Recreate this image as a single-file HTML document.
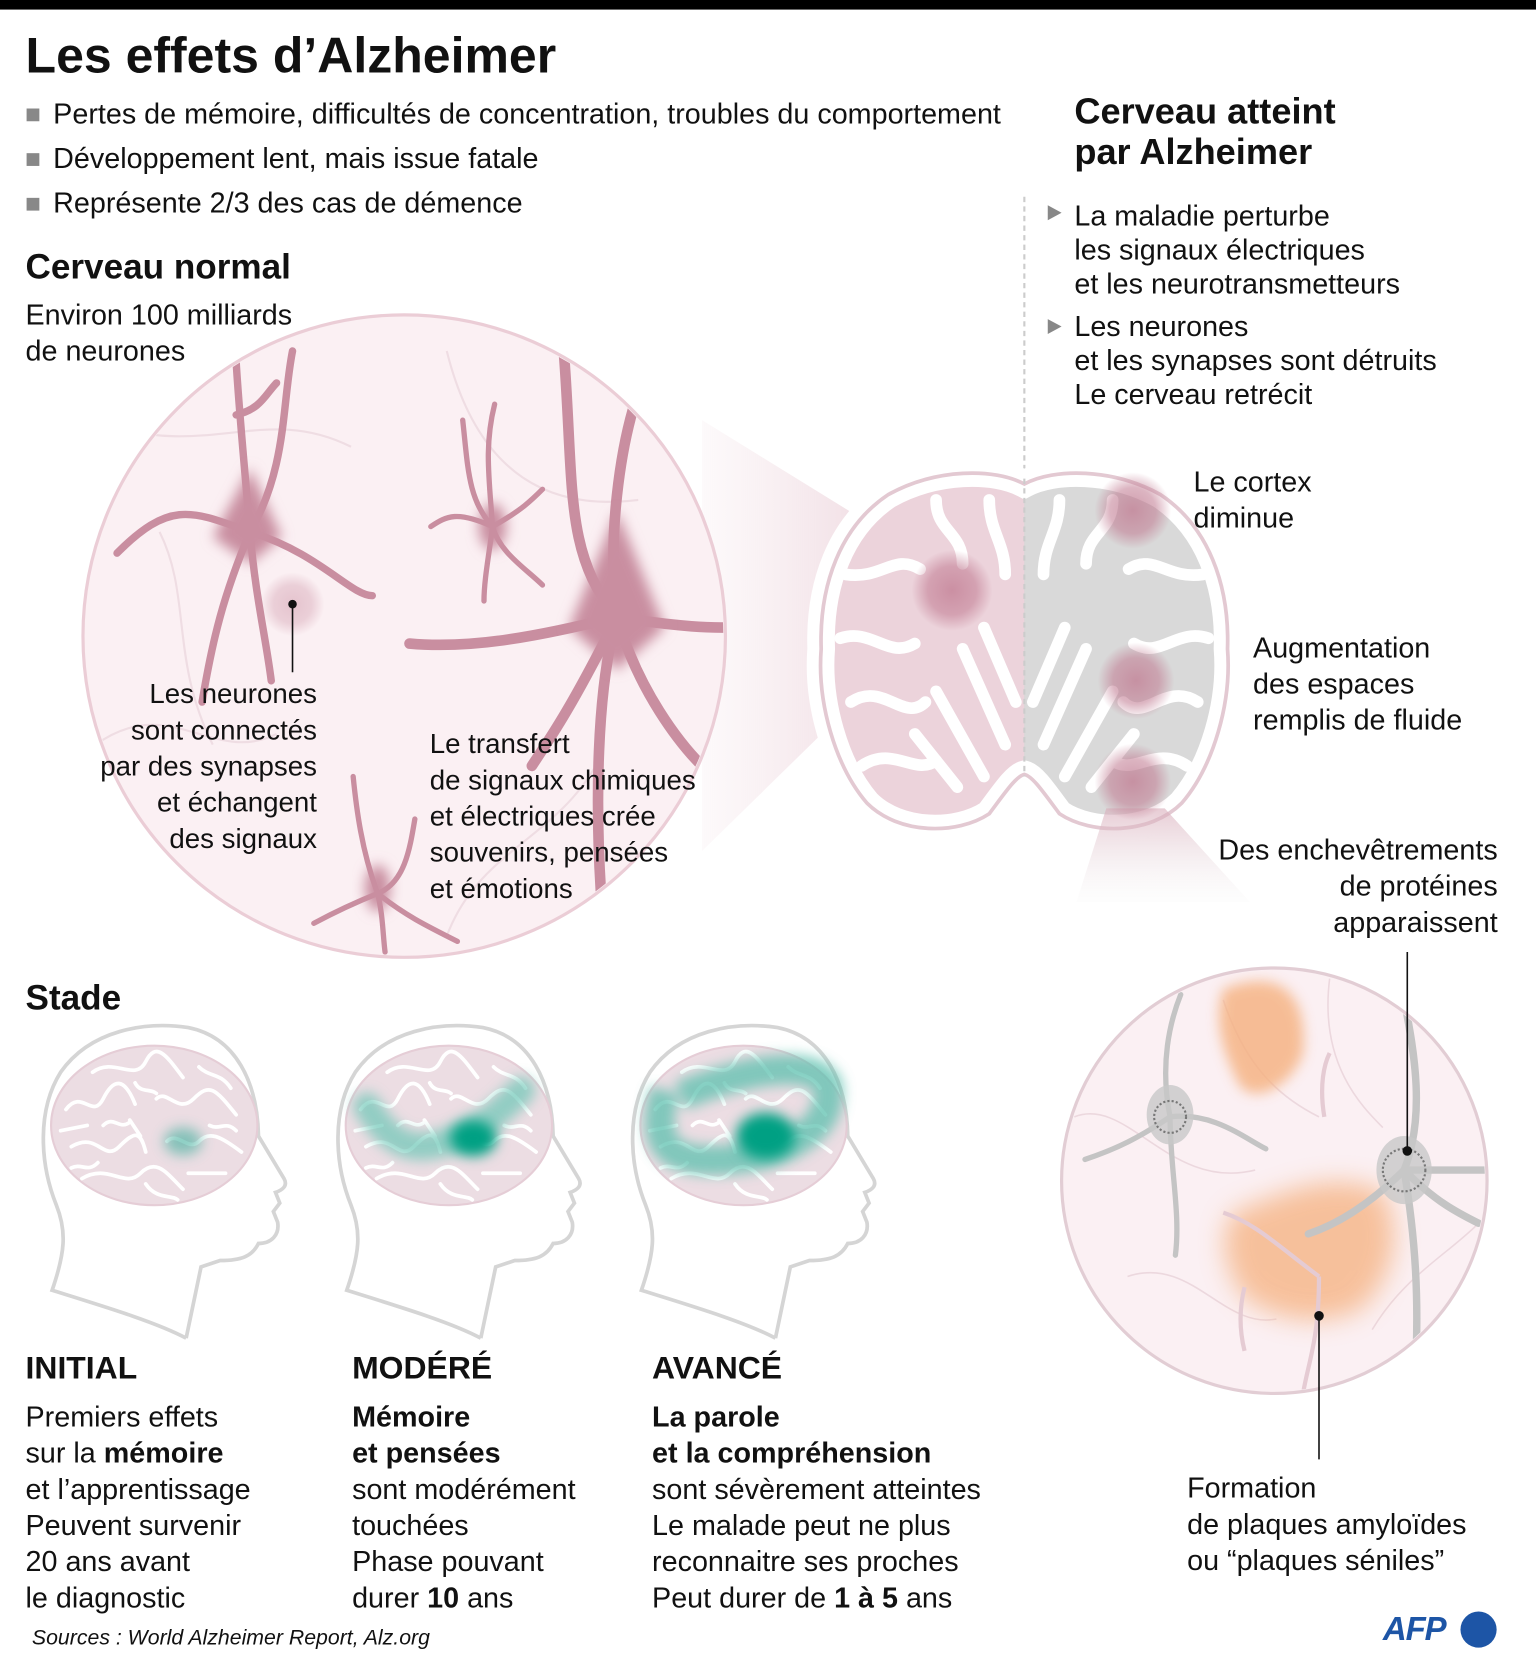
<!DOCTYPE html>
<html><head><meta charset="utf-8"><style>
html,body{margin:0;padding:0;background:#fff;width:1536px;height:1668px;overflow:hidden}
#w{position:absolute;left:0;top:0;width:1444px;height:1568px;transform:scale(1.06371);transform-origin:0 0;font-family:"Liberation Sans",sans-serif;color:#111}
.t{position:absolute;white-space:nowrap;line-height:1}
.b{font-weight:bold}
.r{text-align:right}
</style></head><body><div id="w">
<svg width="1444" height="1568" style="position:absolute;left:0;top:0">
<defs>
<filter id="bl" x="-50%" y="-50%" width="200%" height="200%"><feGaussianBlur stdDeviation="6"/></filter>
<filter id="bl2" x="-50%" y="-50%" width="200%" height="200%"><feGaussianBlur stdDeviation="12"/></filter>
<radialGradient id="pk"><stop offset="0" stop-color="#c07990" stop-opacity=".75"/><stop offset=".6" stop-color="#c07990" stop-opacity=".55"/><stop offset="1" stop-color="#c07990" stop-opacity="0"/></radialGradient>
<linearGradient id="cone" x1="0" x2="1"><stop offset="0" stop-color="#e9c9d3" stop-opacity="0.1"/><stop offset="1" stop-color="#d9a7b7" stop-opacity=".6"/></linearGradient>
<linearGradient id="cone2" y1="0" y2="1" x1="0" x2="0"><stop offset="0" stop-color="#d8aab8" stop-opacity=".6"/><stop offset="1" stop-color="#eee" stop-opacity="0.1"/></linearGradient>
<clipPath id="c1"><circle cx="380" cy="598" r="300"/></clipPath>
<clipPath id="c2"><circle cx="1198" cy="1110" r="198"/></clipPath>
<clipPath id="lh"><rect x="700" y="400" width="263" height="420"/></clipPath>
<clipPath id="rh"><rect x="963" y="400" width="250" height="420"/></clipPath>
<path id="bo" d="M963,455 C935,440 880,440 835,465 C790,495 770,550 772,610 C768,660 785,720 815,755 C845,785 900,785 930,765 C945,745 955,730 963,728 C971,730 981,745 996,765 C1026,785 1081,785 1111,755 C1141,720 1158,660 1154,610 C1156,550 1136,495 1091,465 C1046,440 991,440 963,455Z"/>
<g id="head">
<path d="M138,295 C110,280 60,265 12,250 C24,215 26,195 16,170 C0,130 -2,80 20,45 C48,5 100,-3 140,3 C185,12 205,55 206,105 L230,145 C234,152 228,156 222,158 L226,168 L220,176 L224,186 C226,198 218,206 206,206 C200,218 190,222 170,222 L152,228 L138,295" fill="#fff" stroke="#d5d5d5" stroke-width="3.5"/>
<ellipse cx="108" cy="95" rx="97" ry="75" fill="#ecdde3" stroke="#e5cdd6" stroke-width="2"/>
<g fill="none" stroke="#fff" stroke-width="3.5" stroke-linecap="round">
<path d="M25,80 C40,60 50,90 60,70 S80,50 90,75"/><path d="M30,115 C55,100 60,130 75,115 S95,100 100,120"/>
<path d="M50,45 C70,30 90,55 100,35 S120,30 135,50"/><path d="M110,70 C120,60 130,85 145,70 S165,60 185,85"/>
<path d="M120,110 C130,100 140,120 150,110 S170,105 190,120"/><path d="M40,145 C65,130 80,155 95,140 S120,140 135,155"/>
<path d="M20,100 L45,95"/><path d="M150,40 C160,50 170,45 180,60"/><path d="M85,90 L95,105"/><path d="M140,140 L175,140"/>
<path d="M60,95 C70,85 75,100 85,92"/><path d="M100,150 C110,165 125,160 130,165"/><path d="M160,95 C170,100 175,90 185,100"/><path d="M30,135 C40,130 45,140 55,130"/><path d="M90,55 C95,65 105,60 110,65"/>
</g>
</g>
</defs>
<rect x="0" y="0" width="1444" height="9" fill="#000"/>
<rect x="25" y="102" width="12" height="12" fill="#888"/><rect x="25" y="144" width="12" height="12" fill="#888"/><rect x="25" y="186" width="12" height="12" fill="#888"/>
<path d="M985,193 L998,200 L985,207Z M985,300 L998,307 L985,314Z" fill="#888"/>
<line x1="963" y1="185" x2="963" y2="740" stroke="#ccc" stroke-width="2" stroke-dasharray="5,4"/>
<polygon points="660,395 895,540 895,570 660,800" fill="url(#cone)"/>
<circle cx="380" cy="598" r="302" fill="#fbf0f3" stroke="#ebcdd6" stroke-width="3"/>
<g clip-path="url(#c1)" fill="none" stroke="#efdde3" stroke-width="2">
<path d="M100,400 C200,430 250,380 330,420 M420,330 C450,450 520,480 600,470 M90,700 C160,650 200,720 260,690 M420,880 C450,800 520,790 560,720 M150,500 C180,560 160,620 200,700"/>
</g>
<g clip-path="url(#c1)" stroke="#c98ea0" fill="none" stroke-linecap="round">
<path d="M235,500 C230,440 225,390 222,340 M235,500 C270,440 265,380 275,330 M235,500 C180,480 160,470 110,520 M235,500 C300,520 330,560 350,560 M235,500 C240,560 250,600 255,640 M235,500 C210,560 200,600 190,660 M222,390 C245,385 250,370 260,360" stroke-width="7"/>
<path d="M580,580 C570,500 585,420 595,385 M580,580 C530,520 540,460 530,330 M580,580 C500,600 440,610 385,605 M580,580 C640,590 670,590 690,590 M580,580 C600,650 640,700 660,720 M580,580 C560,650 560,760 565,840 M580,580 C540,660 520,690 500,720" stroke-width="10"/>
<path d="M463,495 C460,450 455,420 465,380 M463,495 C430,480 420,485 405,495 M463,495 C490,480 500,470 510,460 M463,495 C470,520 495,535 510,550 M463,495 C460,520 455,545 455,565 M463,495 C440,470 440,440 435,395" stroke-width="5"/>
<path d="M355,840 C340,800 335,760 332,730 M355,840 C330,850 310,860 295,868 M355,840 C380,830 385,800 390,770 M355,840 C360,860 360,880 362,895 M355,840 C380,860 400,870 430,885" stroke-width="5"/>
</g>
<path d="M235,440 L265,505 L235,530 L200,505Z" fill="#c98ea0" filter="url(#bl)"/>
<path d="M580,480 L625,590 L580,630 L535,590Z" fill="#c98ea0" filter="url(#bl)"/>
<ellipse cx="463" cy="495" rx="13" ry="22" fill="#c98ea0" filter="url(#bl)"/>
<ellipse cx="355" cy="835" rx="12" ry="22" fill="#c98ea0" filter="url(#bl)"/>
<circle cx="275" cy="568" r="30" fill="url(#pk)" opacity=".5"/>
<circle cx="275" cy="568" r="4" fill="#111"/>
<line x1="275" y1="568" x2="275" y2="632" stroke="#111" stroke-width="1.5"/>
<g clip-path="url(#lh)"><use href="#bo" fill="#ecd3db"/></g>
<g clip-path="url(#rh)"><use href="#bo" fill="#d9d9d9"/></g>
<use href="#bo" fill="none" stroke="#fff" stroke-width="26"/>
<g stroke="#fff" stroke-width="11" fill="none" stroke-linecap="round">
<path d="M795,540 C830,545 840,520 865,535"/><path d="M790,600 C820,590 835,620 860,605"/><path d="M800,660 C830,640 850,680 870,660"/><path d="M810,720 C840,700 860,730 880,715"/>
<path d="M880,470 C880,500 905,500 905,530"/><path d="M930,470 C930,500 945,510 945,540"/>
<path d="M905,610 L945,700 M880,650 L925,730 M925,590 L955,660 M860,690 L900,740"/>
<path d="M1131,540 C1096,545 1086,520 1061,535"/><path d="M1136,600 C1106,590 1091,620 1066,605"/><path d="M1126,660 C1096,640 1076,680 1056,660"/><path d="M1116,720 C1086,700 1066,730 1046,715"/>
<path d="M1046,470 C1046,500 1021,500 1021,530"/><path d="M996,470 C996,500 981,510 981,540"/>
<path d="M1021,610 L981,700 M1046,650 L1001,730 M1001,590 L971,660 M1066,690 L1026,740"/>
</g>
<use href="#bo" fill="none" stroke="#e3c9d2" stroke-width="3.5"/>
<line x1="963" y1="450" x2="963" y2="730" stroke="#ccc" stroke-width="2" stroke-dasharray="5,4"/>
<polygon points="1040,760 1095,760 1175,848 1012,848" fill="url(#cone2)"/>
<circle cx="895" cy="555" r="38" fill="url(#pk)"/>
<circle cx="1065" cy="480" r="36" fill="url(#pk)"/>
<circle cx="1068" cy="640" r="36" fill="url(#pk)"/>
<circle cx="1065" cy="735" r="36" fill="url(#pk)"/>
<circle cx="1198" cy="1110" r="200" fill="#fbf0f3" stroke="#e2cdd4" stroke-width="3"/>
<g clip-path="url(#c2)">
<g fill="none" stroke="#ecd8de" stroke-width="1.5"><path d="M1010,1050 C1060,1030 1100,1120 1180,1100 M1250,920 C1240,1000 1280,1040 1300,1060 M1060,1200 C1120,1180 1150,1250 1200,1240 M1290,1250 C1320,1200 1360,1180 1390,1150 M1150,940 C1170,1000 1200,1030 1240,1050"/></g>
<path d="M1150,930 C1200,910 1230,930 1225,990 C1215,1020 1180,1040 1165,1020 C1150,990 1140,960 1150,930Z" fill="#f5b07e" opacity=".8" filter="url(#bl)"/>
<path d="M1160,1140 C1210,1120 1250,1100 1300,1120 C1320,1160 1310,1200 1280,1230 C1240,1250 1200,1240 1170,1220 C1150,1190 1145,1160 1160,1140Z" fill="#f5b07e" opacity=".75" filter="url(#bl2)"/>
<g fill="none" stroke="#c4c4c4" stroke-linecap="round">
<path d="M1100,1050 C1090,1000 1100,960 1110,935 M1100,1050 C1070,1070 1050,1080 1020,1090 M1100,1050 C1140,1045 1170,1070 1190,1080 M1100,1050 C1100,1100 1110,1140 1105,1180" stroke-width="5"/>
<path d="M1320,1100 C1340,1050 1330,990 1320,940 M1320,1100 C1370,1100 1390,1100 1410,1100 M1320,1100 C1290,1130 1260,1150 1230,1160 M1320,1100 C1330,1160 1335,1220 1330,1300 M1320,1100 C1350,1130 1370,1140 1390,1150" stroke-width="7"/>
</g>
<g fill="none" stroke="#e5cbd3" stroke-width="4"><path d="M1240,1200 C1240,1260 1230,1280 1225,1310 M1240,1200 C1200,1170 1180,1150 1150,1140 M1245,1050 C1240,1020 1245,1000 1250,990 M1170,1270 C1165,1250 1165,1230 1170,1210"/></g>
<ellipse cx="1100" cy="1048" rx="22" ry="28" fill="#c8c8c8" opacity=".8"/>
<ellipse cx="1320" cy="1100" rx="26" ry="32" fill="#c8c8c8" opacity=".8"/>
</g>
<circle cx="1100" cy="1050" r="15" fill="none" stroke="#777" stroke-width="2" stroke-dasharray="2,2"/>
<circle cx="1320" cy="1100" r="20" fill="none" stroke="#777" stroke-width="2" stroke-dasharray="2,2"/>
<line x1="1323" y1="895" x2="1323" y2="1082" stroke="#111" stroke-width="1.5"/><circle cx="1323" cy="1082" r="4.5" fill="#111"/>
<line x1="1240" y1="1237" x2="1240" y2="1372" stroke="#111" stroke-width="1.5"/><circle cx="1240" cy="1237" r="4.5" fill="#111"/>
<use href="#head" x="37" y="963"/>
<use href="#head" x="314" y="963"/>
<use href="#head" x="591" y="963"/>
<ellipse cx="172" cy="1073" rx="18" ry="13" fill="#3fae9c" opacity=".6" filter="url(#bl)"/>
<path d="M345,1040 C370,1080 390,1085 430,1070 C460,1055 475,1040 490,1025" fill="none" stroke="#6cc6b6" stroke-width="26" opacity=".7" stroke-linecap="round" filter="url(#bl)"/>
<ellipse cx="445" cy="1070" rx="22" ry="17" fill="#00a083" filter="url(#bl)"/>
<path d="M625,1025 C610,1080 630,1095 690,1090 C740,1085 785,1060 778,1020 C765,995 700,1005 640,1030" fill="none" stroke="#5cc0ae" stroke-width="28" opacity=".75" filter="url(#bl)"/>
<ellipse cx="720" cy="1068" rx="28" ry="22" fill="#00a083" filter="url(#bl)"/>
<circle cx="1390" cy="1532" r="17" fill="#1d55a6"/>
</svg>
<div class="t b" style="left:24px;top:28px;font-size:47px">Les effets d’Alzheimer</div>
<div class="t" style="left:50px;top:94px;font-size:27px">Pertes de mémoire, difficultés de concentration, troubles du comportement</div>
<div class="t" style="left:50px;top:136px;font-size:27px">Développement lent, mais issue fatale</div>
<div class="t" style="left:50px;top:178px;font-size:27px">Représente 2/3 des cas de démence</div>
<div class="t b" style="left:1010px;top:86px;font-size:34px;line-height:38px">Cerveau atteint<br>par Alzheimer</div>
<div class="t" style="left:1010px;top:187px;font-size:27px;line-height:32px">La maladie perturbe<br>les signaux électriques<br>et les neurotransmetteurs</div>
<div class="t" style="left:1010px;top:291px;font-size:27px;line-height:32px">Les neurones<br>et les synapses sont détruits<br>Le cerveau retrécit</div>
<div class="t b" style="left:24px;top:234px;font-size:33px">Cerveau normal</div>
<div class="t" style="left:24px;top:279px;font-size:27px;line-height:34px">Environ 100 milliards<br>de neurones</div>
<div class="t r" style="right:1146px;top:635px;font-size:26px;line-height:34px">Les neurones<br>sont connectés<br>par des synapses<br>et échangent<br>des signaux</div>
<div class="t" style="left:404px;top:682px;font-size:26px;line-height:34px">Le transfert<br>de signaux chimiques<br>et électriques crée<br>souvenirs, pensées<br>et émotions</div>
<div class="t" style="left:1122px;top:436px;font-size:27px;line-height:34px">Le cortex<br>diminue</div>
<div class="t" style="left:1178px;top:592px;font-size:27px;line-height:34px">Augmentation<br>des espaces<br>remplis de fluide</div>
<div class="t r" style="right:36px;top:782px;font-size:27px;line-height:34px">Des enchevêtrements<br>de protéines<br>apparaissent</div>
<div class="t" style="left:1116px;top:1382px;font-size:27px;line-height:34px">Formation<br>de plaques amyloïdes<br>ou “plaques séniles”</div>
<div class="t b" style="left:24px;top:921px;font-size:33px">Stade</div>
<div class="t b" style="left:24px;top:1272px;font-size:30px">INITIAL</div>
<div class="t b" style="left:331px;top:1272px;font-size:30px">MODÉRÉ</div>
<div class="t b" style="left:613px;top:1272px;font-size:30px">AVANCÉ</div>
<div class="t" style="left:24px;top:1315px;font-size:27px;line-height:34px">Premiers effets<br>sur la <b>mémoire</b><br>et l’apprentissage<br>Peuvent survenir<br>20 ans avant<br>le diagnostic</div>
<div class="t" style="left:331px;top:1315px;font-size:27px;line-height:34px"><b>Mémoire<br>et pensées</b><br>sont modérément<br>touchées<br>Phase pouvant<br>durer <b>10</b> ans</div>
<div class="t" style="left:613px;top:1315px;font-size:27px;line-height:34px"><b>La parole<br>et la compréhension</b><br>sont sévèrement atteintes<br>Le malade peut ne plus<br>reconnaitre ses proches<br>Peut durer de <b>1 à 5</b> ans</div>
<div class="t" style="left:30px;top:1530px;font-size:20px;font-style:italic">Sources : World Alzheimer Report, Alz.org</div>
<div class="t b" style="left:1300px;top:1516px;font-size:31px;color:#1d55a6;font-style:italic;letter-spacing:-1px">AFP</div>
</div></body></html>
